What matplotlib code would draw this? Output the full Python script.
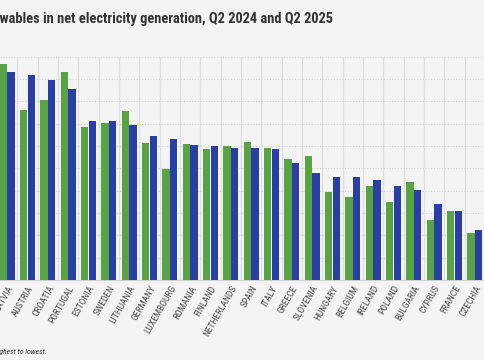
#import libraries
import numpy as np
import matplotlib.pyplot as plt
from matplotlib import font_manager

#country names and shares of renewables (%), Q2 2024 and Q2 2025
countries = ['LATVIA', 'AUSTRIA', 'CROATIA', 'PORTUGAL', 'ESTONIA', 'SWEDEN',
             'LITHUANIA', 'GERMANY', 'LUXEMBOURG', 'ROMANIA', 'FINLAND',
             'NETHERLANDS', 'SPAIN', 'ITALY', 'GREECE', 'SLOVENIA', 'HUNGARY',
             'BELGIUM', 'IRELAND', 'POLAND', 'BULGARIA', 'CYPRUS', 'FRANCE',
             'CZECHIA']
q2_2024 = [96.9, 76.2, 80.6, 93.1, 68.7, 70.4, 75.5, 61.3, 49.5, 60.7, 58.7,
           60.0, 62.0, 59.3, 54.0, 55.7, 39.3, 37.2, 42.2, 34.8, 43.9, 27.0,
           30.8, 21.2]
q2_2025 = [93.3, 91.8, 89.4, 85.5, 71.4, 71.0, 69.6, 64.6, 63.1, 60.5, 59.8,
           59.1, 59.1, 58.5, 52.6, 48.1, 46.1, 46.1, 44.7, 42.2, 40.2, 34.1,
           30.8, 22.3]

#look for a narrow / condensed font, the reference uses one
fonts = font_manager.fontManager.ttflist
names = {f.name for f in fonts}
family, stretch, found = 'DejaVu Sans', 'normal', False
for n in ['Liberation Sans Narrow', 'Roboto Condensed', 'Open Sans Condensed',
          'DejaVu Sans Condensed', 'Noto Sans Condensed']:
    if n in names:
        family, found = n, True
        break
if not found:
    for n in ['DejaVu Sans', 'Noto Sans', 'Roboto', 'Open Sans']:
        if any(f.name == n and str(f.stretch) in ('condensed', 'semi-condensed')
               for f in fonts):
            family, stretch, found = n, 'condensed', True
            break
plt.rcParams['font.family'] = [family, 'DejaVu Sans']
plt.rcParams['font.stretch'] = stretch
k = 1.0 if found else 0.85   #shrink text a bit more when no narrow font

bg = '#f4f4f4'
green = '#58a444'
blue = '#2a3fa6'

fig = plt.figure(figsize=(4.85, 3.6), dpi=100, facecolor=bg)
ax = fig.add_axes([0, 80/360, 1, (280-56.7)/360], facecolor=bg)

x = np.arange(len(countries))
w = 0.36
ax.bar(x - 0.185, q2_2024, width=w, color=green, zorder=3)
ax.bar(x + 0.185, q2_2025, width=w, color=blue, zorder=3)

#axis limits so the chart is cut like the reference
ax.set_xlim(-7.3/20.5, (485-7.3)/20.5)
ax.set_ylim(0, 100)

#grid: solid vertical lines between countries, dotted horizontal lines
ax.set_xticks(x)
ax.set_xticks(x + 0.5, minor=True)
ax.set_yticks(np.arange(0, 101, 10))
ax.grid(axis='x', which='minor', color='#dedede', lw=0.9, zorder=0)
ax.grid(axis='y', which='major', color='#cfcfcf', lw=0.8, ls=(0, (1, 1.5)), zorder=0)
ax.tick_params(axis='both', which='both', length=0)
ax.set_yticklabels([])
ax.set_xticklabels(countries, rotation=60, ha='right', rotation_mode='anchor',
                   fontsize=6.8*k, color='#4a4a4a')
ax.tick_params(axis='x', pad=3)
for s in ['top', 'left', 'right']:
    ax.spines[s].set_visible(False)
ax.spines['bottom'].set_color('#d0d0d0')

#title and note, cut at the left edge like the reference
fig.text(333/485, 1 - 23/360, 'Share of renewables in net electricity generation, Q2 2024 and Q2 2025',
         ha='right', va='baseline', fontsize=10.4*k, fontweight='bold', color='#333333')
fig.text(47/485, 1 - 354/360, 'Countries are ranked from highest to lowest.',
         ha='right', va='baseline', fontsize=5.6*k, style='italic', color='#333333')

fig.savefig('out.png', dpi=100, facecolor=bg)
